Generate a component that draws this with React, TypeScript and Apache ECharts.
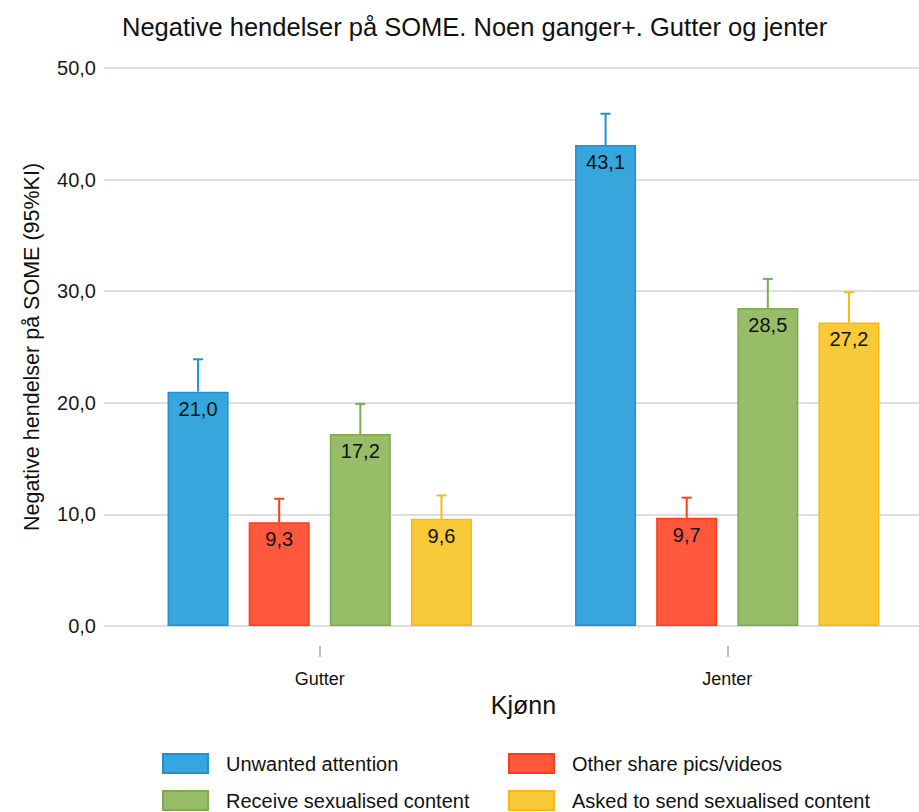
import React, { useEffect, useRef } from "react";
import * as echarts from "echarts";

const categories = ["Gutter", "Jenter"];
const seriesNames = [
  "Unwanted attention",
  "Other share pics/videos",
  "Receive sexualised content",
  "Asked to send sexualised content",
];
const unwantedAttention = [21.0, 43.1];
const otherSharePics = [9.3, 9.7];
const receiveSexualised = [17.2, 28.5];
const askedToSend = [9.6, 27.2];
const unwantedAttentionUpper = [23.9, 45.9];
const otherSharePicsUpper = [11.4, 11.5];
const receiveSexualisedUpper = [19.9, 31.1];
const askedToSendUpper = [11.7, 29.9];
const yTicks = [0, 10, 20, 30, 40, 50];

const fills = ["#36A6DD", "#FF583C", "#97BD69", "#F8C939"];
const borders = ["#1E90D3", "#FF3C17", "#7DAC50", "#F8BA0C"];

const FONT = "Liberation Sans, Arial, sans-serif";
const BAR_W = 61;
const GAP_RATIO = 0.33;

export default function App() {
  const ref = useRef<HTMLDivElement>(null);
  useEffect(() => {
    if (!ref.current) return;
    const chart = echarts.init(ref.current, null, { renderer: "svg" });
    const values = [unwantedAttention, otherSharePics, receiveSexualised, askedToSend];
    const uppers = [unwantedAttentionUpper, otherSharePicsUpper, receiveSexualisedUpper, askedToSendUpper];
    const step = BAR_W * (1 + GAP_RATIO);
    const fmt = (v: number) => v.toFixed(1).replace(".", ",");

    const barSeries = values.map((vals, i) => ({
      type: "bar",
      name: seriesNames[i],
      xAxisIndex: 0,
      yAxisIndex: 0,
      data: vals,
      barWidth: BAR_W,
      barGap: `${GAP_RATIO * 100}%`,
      itemStyle: { color: fills[i], borderColor: borders[i], borderWidth: 1.5 },
      label: {
        show: true,
        position: "insideTop",
        distance: 7,
        formatter: (p: any) => fmt(p.value),
        fontSize: 20,
        fontFamily: FONT,
        color: "#111",
      },
      z: 3,
    }));

    const errSeries = values.map((vals, i) => ({
      type: "custom",
      name: "err" + i,
      xAxisIndex: 0,
      yAxisIndex: 0,
      data: vals.map((v, c) => [c, v, uppers[i][c]]),
      z: 2,
      renderItem: (params: any, api: any) => {
        const c = api.value(0);
        const p0 = api.coord([c, api.value(1)]);
        const p1 = api.coord([c, api.value(2)]);
        const x = p0[0] + (i - 1.5) * step;
        const style = { stroke: borders[i], lineWidth: 2 };
        return {
          type: "group",
          children: [
            { type: "line", shape: { x1: x, y1: p0[1], x2: x, y2: p1[1] }, style },
            { type: "line", shape: { x1: x - 5, y1: p1[1], x2: x + 5, y2: p1[1] }, style },
          ],
        };
      },
    }));

    const legendCommon = {
      orient: "vertical",
      padding: 0,
      height: 120,
      itemWidth: 45,
      itemHeight: 19,
      itemGap: 16,
      icon: "rect",
      textStyle: { fontSize: 20, fontFamily: FONT, color: "#111", padding: [0, 0, 0, 13] },
    };

    chart.setOption({
      animation: false,
      backgroundColor: "#fff",
      title: {
        text: "Negative hendelser på SOME. Noen ganger+. Gutter og jenter",
        left: 122,
        top: 14,
        padding: 0,
        textStyle: { fontSize: 25.5, fontWeight: "normal", fontFamily: FONT, color: "#111" },
      },
      legend: [
        { ...legendCommon, left: 162, top: 753, data: [seriesNames[0], seriesNames[2]] },
        { ...legendCommon, left: 508, top: 753, data: [seriesNames[1], seriesNames[3]] },
      ],
      grid: [
        { left: 116, right: -12, top: 68, bottom: 186, outerBoundsMode: "none" },
        { left: 104, right: -24, top: 68, bottom: 186, outerBoundsMode: "none" },
      ],
      xAxis: [
        {
          type: "category",
          gridIndex: 0,
          data: categories,
          offset: 20,
          axisLine: { show: false, onZero: false },
          axisTick: { show: true, length: 11, alignWithLabel: true, lineStyle: { color: "#bdbdbd", width: 2 } },
          axisLabel: { fontSize: 18, fontFamily: FONT, color: "#111", margin: 24 },
          name: "Kjønn",
          nameLocation: "middle",
          nameGap: 46,
          nameTextStyle: { fontSize: 25, fontFamily: FONT, color: "#111" },
        },
        { type: "value", gridIndex: 1, show: false, min: 0, max: 1 },
      ],
      yAxis: [
        { type: "value", gridIndex: 0, min: 0, max: 50, interval: 10, show: false },
        {
          type: "value",
          gridIndex: 1,
          min: yTicks[0],
          max: yTicks[yTicks.length - 1],
          interval: 10,
          axisLine: { show: false },
          axisTick: { show: false },
          splitLine: { lineStyle: { color: "#d3d3d3", width: 1.5 } },
          axisLabel: { fontSize: 20, fontFamily: FONT, color: "#1a1a1a", margin: 8, formatter: (v: number) => fmt(v) },
          name: "Negative hendelser på SOME (95%KI)",
          nameLocation: "middle",
          nameGap: 61,
          nameTextStyle: { fontSize: 21.5, fontFamily: FONT, color: "#111" },
        },
      ],
      series: [...errSeries, ...barSeries],
    });
    return () => chart.dispose();
  }, []);
  return <div ref={ref} style={{ position: "fixed", left: 0, top: 0, width: 919, height: 812 }} />;
}
